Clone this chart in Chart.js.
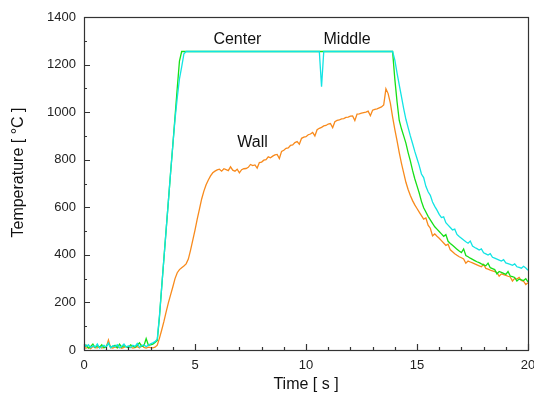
<!DOCTYPE html>
<html><head><meta charset="utf-8">
<script src="https://cdn.jsdelivr.net/npm/chart.js@4"></script>
<style>html,body{margin:0;padding:0;background:#fff}#wrap{width:534px;height:401px;position:relative}</style>
</head><body><div id="wrap"><canvas id="c" width="534" height="401"></canvas></div>
<script>
const times = [
0,0.1,0.2,0.3,0.4,0.5,0.6,0.7,0.8,0.9,
1,1.1,1.2,1.3,1.4,1.5,1.6,1.7,1.8,1.9,
2,2.1,2.2,2.3,2.4,2.5,2.6,2.7,2.8,2.9,
3,3.1,3.2,3.3,3.4,3.5,3.6,3.7,3.8,3.9,
4,4.1,4.2,4.3,4.4,4.5,4.6,4.7,4.8,4.9,
5,5.1,5.2,5.3,5.4,5.5,5.6,5.7,5.8,5.9,
6,6.1,6.2,6.3,6.4,6.5,6.6,6.7,6.8,6.9,
7,7.1,7.2,7.3,7.4,7.5,7.6,7.7,7.8,7.9,
8,8.1,8.2,8.3,8.4,8.5,8.6,8.7,8.8,8.9,
9,9.1,9.2,9.3,9.4,9.5,9.6,9.7,9.8,9.9,
10,10.1,10.2,10.3,10.4,10.5,10.6,10.7,10.8,10.9,
11,11.1,11.2,11.3,11.4,11.5,11.6,11.7,11.8,11.9,
12,12.1,12.2,12.3,12.4,12.5,12.6,12.7,12.8,12.9,
13,13.1,13.2,13.3,13.4,13.5,13.6,13.7,13.8,13.9,
14,14.1,14.2,14.3,14.4,14.5,14.6,14.7,14.8,14.9,
15,15.1,15.2,15.3,15.4,15.5,15.6,15.7,15.8,15.9,
16,16.1,16.2,16.3,16.4,16.5,16.6,16.7,16.8,16.9,
17,17.1,17.2,17.3,17.4,17.5,17.6,17.7,17.8,17.9,
18,18.1,18.2,18.3,18.4,18.5,18.6,18.7,18.8,18.9,
19,19.1,19.2,19.3,19.4,19.5,19.6,19.7,19.8,19.9,
20];

// Middle (cyan)
const middle = [
28,15,22,10,18,12,25,8,15,20,
12,30,10,18,14,22,9,16,25,12,
18,10,20,15,28,12,18,22,14,20,
26,30,35,45,145,265,385,505,625,745,
860,970,1060,1140,1190,1245,1255,1255,1255,1255,
1255,1255,1255,1255,1255,1255,1255,1255,1255,1255,
1255,1255,1255,1255,1255,1255,1255,1255,1255,1255,
1255,1255,1255,1255,1255,1255,1255,1255,1255,1255,
1255,1255,1255,1255,1255,1255,1255,1255,1255,1255,
1255,1255,1255,1255,1255,1255,1255,1255,1255,1255,
1255,1255,1255,1255,1255,1255,1255,1107,1255,1255,
1255,1255,1255,1255,1255,1255,1255,1255,1255,1255,
1255,1255,1255,1255,1255,1255,1255,1255,1255,1255,
1255,1255,1255,1255,1255,1255,1255,1255,1255,1255,
1220,1165,1115,1065,1015,970,935,900,868,835,
805,775,740,725,688,665,650,622,604,588,
570,557,560,535,525,515,505,508,486,477,
470,462,455,449,458,437,431,426,420,425,
409,404,399,405,390,386,382,378,374,380,
366,363,360,356,362,350,347,344,352,345,
335];

// Center (green)
const center = [
12,20,8,15,25,10,18,12,22,9,
16,28,11,15,20,10,25,12,18,14,
10,22,16,12,20,30,15,18,48,20,
22,25,32,40,140,265,385,505,625,745,
860,980,1100,1215,1255,1255,1255,1255,1255,1255,
1255,1255,1255,1255,1255,1255,1255,1255,1255,1255,
1255,1255,1255,1255,1255,1255,1255,1255,1255,1255,
1255,1255,1255,1255,1255,1255,1255,1255,1255,1255,
1255,1255,1255,1255,1255,1255,1255,1255,1255,1255,
1255,1255,1255,1255,1255,1255,1255,1255,1255,1255,
1255,1255,1255,1255,1255,1255,1255,1255,1255,1255,
1255,1255,1255,1255,1255,1255,1255,1255,1255,1255,
1255,1255,1255,1255,1255,1255,1255,1255,1255,1255,
1255,1255,1255,1255,1255,1255,1255,1255,1255,1255,
1140,1045,965,930,900,870,830,795,755,720,
690,660,625,598,580,562,547,532,518,508,
498,488,478,485,457,448,440,432,424,416,
410,425,397,392,386,381,376,371,367,362,
358,354,365,346,342,338,320,330,326,322,
318,330,311,308,305,290,298,295,292,300,
286];

// Wall (orange)
const wall = [
10,8,12,6,15,10,9,14,8,12,
11,42,10,8,13,9,12,7,11,15,
9,12,8,10,14,9,20,11,8,12,
10,9,12,20,50,84,120,160,198,232,
265,300,325,338,346,353,362,382,420,462,
504,550,592,635,668,695,715,732,745,752,
757,760,752,762,758,754,770,756,752,760,
745,758,762,763,768,780,775,778,765,788,
790,798,800,812,808,815,820,822,805,835,
840,848,850,860,862,872,876,865,890,895,
897,905,908,915,900,926,932,936,942,944,
950,952,935,960,965,967,972,973,978,979,
983,984,965,992,993,996,998,1000,1004,985,
1008,1012,1014,1018,1022,1030,1098,1078,1038,980,
928,880,830,785,745,705,675,650,628,610,
595,580,565,550,555,525,512,480,488,478,
470,460,450,440,445,421,413,405,398,392,
388,383,365,374,370,366,362,358,354,350,
360,343,340,336,333,330,326,310,320,317,
314,310,307,290,301,298,305,292,289,275,
283];

const seriesNames = ['Middle', 'Center', 'Wall'];
const seriesColors = ['#12e4e4', '#16e016', '#f88a1c'];
const xMajor = [0, 5, 10, 15, 20];
const yMajor = [0, 200, 400, 600, 800, 1000, 1200, 1400];
const curveLabels = [
  {text: 'Center', x: 6.91, y: 1303},
  {text: 'Middle', x: 11.85, y: 1303},
  {text: 'Wall', x: 7.59, y: 872}
];
const xTitle = 'Time [ s ]';
const yTitle = 'Temperature [ \u00B0C ]';

const FONT = "'Liberation Sans', Arial, Helvetica, sans-serif";
const mk = arr => times.map((t, i) => ({x: t, y: arr[i]}));

const decor = {
  id: 'decor',
  afterDraw(chart) {
    const ctx = chart.ctx, a = chart.chartArea;
    const xs = chart.scales.x, ys = chart.scales.y;
    ctx.save();
    ctx.strokeStyle = '#333';
    ctx.lineWidth = 1.2;
    ctx.strokeRect(a.left + 0.5, a.top + 0.5, a.right - a.left, a.bottom - a.top);
    ctx.beginPath();
    for (let v = 0; v <= 20; v += 1) {
      const px = Math.round(xs.getPixelForValue(v)) + 0.5;
      const len = xMajor.includes(v) ? 6 : 3;
      ctx.moveTo(px, a.bottom); ctx.lineTo(px, a.bottom - len);
    }
    for (let v = 0; v <= 1400; v += 100) {
      const py = Math.round(ys.getPixelForValue(v)) + 0.5;
      const len = yMajor.includes(v) ? 6 : 3;
      ctx.moveTo(a.left, py); ctx.lineTo(a.left + len, py);
    }
    ctx.stroke();
    ctx.fillStyle = '#111';
    ctx.font = '16px ' + FONT;
    ctx.textAlign = 'center';
    ctx.textBaseline = 'middle';
    curveLabels.forEach(l => ctx.fillText(l.text, xs.getPixelForValue(l.x), ys.getPixelForValue(l.y)));
    ctx.fillText(xTitle, (a.left + a.right) / 2, a.bottom + 35);
    ctx.translate(19, (a.top + a.bottom) / 2 - 11);
    ctx.rotate(-Math.PI / 2);
    ctx.fillText(yTitle, 0, 0);
    ctx.restore();
  }
};

new Chart(document.getElementById('c'), {
  type: 'line',
  data: {
    datasets: [middle, center, wall].map((arr, i) => ({
      label: seriesNames[i],
      data: mk(arr),
      borderColor: seriesColors[i],
      backgroundColor: seriesColors[i],
      borderWidth: 1.3,
      pointRadius: 0,
      tension: 0,
      fill: false
    }))
  },
  options: {
    responsive: false,
    animation: false,
    devicePixelRatio: 1,
    layout: {padding: {top: 17, right: 6, left: 0, bottom: 0}},
    plugins: {legend: {display: false}, tooltip: {enabled: false}},
    scales: {
      x: {
        type: 'linear', min: 0, max: 20,
        grid: {display: false, drawTicks: false}, border: {display: false},
        ticks: {stepSize: 5, padding: 8, maxRotation: 0, autoSkip: false,
                color: '#222', font: {size: 13, family: FONT},
                callback: v => String(v)},
        afterFit(s) { s.height = 51; s.paddingLeft = 0; s.paddingRight = 0; }
      },
      y: {
        type: 'linear', min: 0, max: 1400,
        grid: {display: false, drawTicks: false}, border: {display: false},
        ticks: {stepSize: 200, padding: 8, color: '#222', font: {size: 13, family: FONT},
                callback: v => String(v)},
        afterFit(s) { s.width = 84; s.paddingTop = 0; s.paddingBottom = 0; }
      }
    }
  },
  plugins: [decor]
});
</script>
</body></html>
